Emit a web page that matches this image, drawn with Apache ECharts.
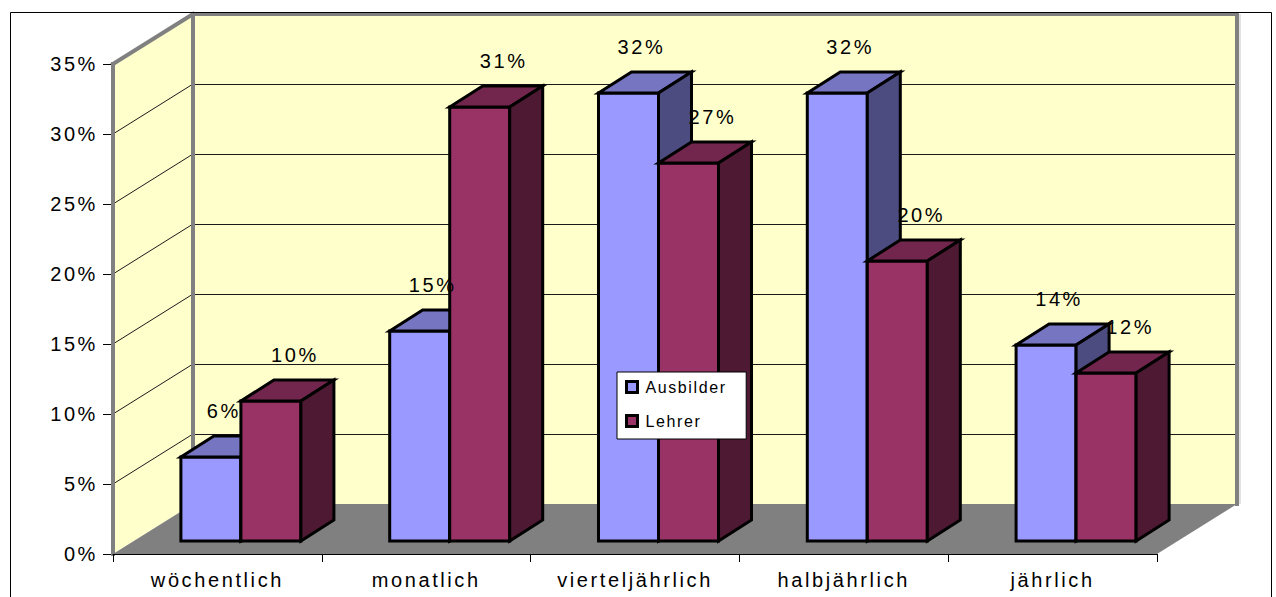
<!DOCTYPE html>
<html><head><meta charset="utf-8">
<script src="https://cdn.jsdelivr.net/npm/echarts/dist/echarts.min.js"></script>
<style>
html,body{margin:0;padding:0;background:#fff;}
#chart{width:1276px;height:597px;}
#chart text{letter-spacing:2.6px;}
#chart text[style*="16px"]{letter-spacing:1.6px;}
</style></head><body><div id="chart"></div>
<script>
const categories = ['wöchentlich', 'monatlich', 'vierteljährlich', 'halbjährlich', 'jährlich'];
const seriesNames = ['Ausbilder', 'Lehrer'];
const ausbilder = [6, 15, 32, 32, 14];
const lehrer = [10, 31, 27, 20, 12];
const yTicks = [0, 5, 10, 15, 20, 25, 30, 35];

const FONT = '"Liberation Sans", Arial, sans-serif';
const Y_MAX = 35;
const WALL_DX = 80, WALL_DY = -50;
const FRONT_DX = 21, FRONT_DY = -13;
const BAR_DX = 33, BAR_DY = -21;
const BAR_FRAC = 0.2874, PAIR_SHIFT = 2.5;
const COLORS = [
  {front: '#9999FF', top: '#7575C2', side: '#4C4C80', ldx: 13},
  {front: '#993366', top: '#73264D', side: '#4D1933', ldx: 24}
];

function wallRender(params, api) {
  const band = api.size([1, 0])[0];
  const xL = api.coord([0, 0])[0] - band / 2;
  const xR = api.coord([categories.length - 1, 0])[0] + band / 2;
  const y0 = api.coord([0, 0])[1];
  const yT = api.coord([0, Y_MAX])[1];
  const ch = [];
  const wall = '#FFFFCC', edge = '#808080';
  ch.push({type: 'polygon', shape: {points: [[xL, y0], [xL, yT], [xL + WALL_DX, yT + WALL_DY], [xL + WALL_DX, y0 + WALL_DY]]}, style: {fill: wall}});
  ch.push({type: 'rect', shape: {x: xL + WALL_DX, y: yT + WALL_DY, width: xR - xL, height: y0 - yT}, style: {fill: wall}});
  yTicks.forEach(t => {
    if (t === 0 || t === Y_MAX) return;
    const y = api.coord([0, t])[1];
    ch.push({type: 'line', shape: {x1: xL + WALL_DX, y1: y + WALL_DY + 0.5, x2: xR + WALL_DX, y2: y + WALL_DY + 0.5}, style: {stroke: '#1a1a1a', lineWidth: 1}});
    ch.push({type: 'line', shape: {x1: xL, y1: y, x2: xL + WALL_DX, y2: y + WALL_DY}, style: {stroke: '#1a1a1a', lineWidth: 1}});
  });
  ch.push({type: 'polygon', shape: {points: [[xL, y0], [xR, y0], [xR + WALL_DX, y0 + WALL_DY], [xL + WALL_DX, y0 + WALL_DY]]}, style: {fill: '#808080'}});
  const e = (x1, y1, x2, y2) => ch.push({type: 'line', shape: {x1, y1, x2, y2}, style: {stroke: edge, lineWidth: 4, lineCap: 'square'}});
  e(xL, y0, xL, yT);
  e(xL, yT, xL + WALL_DX, yT + WALL_DY);
  e(xL + WALL_DX, yT + WALL_DY, xL + WALL_DX, y0 + WALL_DY);
  e(xL + WALL_DX, yT + WALL_DY, xR + WALL_DX, yT + WALL_DY);
  e(xR + WALL_DX, yT + WALL_DY, xR + WALL_DX, y0 + WALL_DY);
  ch.push({type: 'line', shape: {x1: xR + WALL_DX + 3, y1: yT + WALL_DY, x2: xR + WALL_DX + 3, y2: y0 + WALL_DY}, style: {stroke: '#c8c8c8', lineWidth: 1}});
  return {type: 'group', children: ch};
}

function barRender(s) {
  return function (params, api) {
    const i = api.value(0), v = api.value(1);
    const base = api.coord([i, 0]);
    const top = api.coord([i, v]);
    const band = api.size([1, 0])[0];
    const bw = band * BAR_FRAC;
    const xl = base[0] + PAIR_SHIFT + (s === 0 ? -bw : 0) + FRONT_DX;
    const xr = xl + bw;
    const yb = base[1] + FRONT_DY;
    const yt = top[1] + FRONT_DY;
    const c = COLORS[s];
    const st = (fill) => ({fill, stroke: '#000', lineWidth: 3, lineJoin: 'miter'});
    return {type: 'group', children: [
      {type: 'polygon', shape: {points: [[xl, yb], [xl, yt], [xr, yt], [xr, yb]]}, style: st(c.front)},
      {type: 'polygon', shape: {points: [[xl, yt], [xr, yt], [xr + BAR_DX, yt + BAR_DY], [xl + BAR_DX, yt + BAR_DY]]}, style: st(c.top)},
      {type: 'polygon', shape: {points: [[xr, yt], [xr + BAR_DX, yt + BAR_DY], [xr + BAR_DX, yb + BAR_DY], [xr, yb]]}, style: st(c.side)},
      {type: 'text', z2: 100, x: (xl + xr) / 2 + c.ldx, y: yt - 46, style: {text: v + '%', fill: '#000', font: '20px ' + FONT, align: 'center', verticalAlign: 'middle'}}
    ]};
  };
}

const chart = echarts.init(document.getElementById('chart'), null, {renderer: 'svg'});
chart.setOption({
  animation: false,
  backgroundColor: '#fff',
  grid: {left: 113, right: 119, top: 64, bottom: 43, containLabel: false, outerBoundsMode: 'none'},
  xAxis: {
    type: 'category', data: categories, z: 5,
    axisLine: {show: true, lineStyle: {color: '#000', width: 1}},
    axisTick: {show: true, length: 8, lineStyle: {color: '#000'}},
    axisLabel: {interval: 0, color: '#000', fontSize: 20, fontFamily: FONT, margin: 16},
    splitLine: {show: false}
  },
  yAxis: {
    type: 'value', min: 0, max: Y_MAX, interval: 5,
    axisLine: {show: false},
    axisTick: {show: true, length: 10, lineStyle: {color: '#000'}},
    axisLabel: {formatter: '{value}%', color: '#000', fontSize: 20, fontFamily: FONT, margin: 15},
    splitLine: {show: false}
  },
  legend: {
    orient: 'vertical', left: 617, top: 372,
    backgroundColor: '#fff', borderColor: '#000', borderWidth: 1, borderRadius: 0,
    padding: [7, 34, 10, 8], itemGap: 18, itemWidth: 11, itemHeight: 11,
    icon: 'rect', selectedMode: false,
    textStyle: {color: '#000', fontSize: 16, fontFamily: FONT, padding: [0, 0, 0, 3]},
    data: seriesNames.map((n, k) => ({name: n, icon: 'rect', itemStyle: {color: COLORS[k].front, borderColor: '#000', borderWidth: 3}}))
  },
  graphic: [{type: 'rect', silent: true, z: 100, shape: {x: 10.5, y: 12.5, width: 1261, height: 600}, style: {fill: 'none', stroke: '#000', lineWidth: 1}}],
  series: [
    {type: 'custom', name: '_walls', z: 1, silent: true, clip: false, renderItem: wallRender, data: [[0, 0]], encode: {x: 0, y: 1}},
    {type: 'custom', name: seriesNames[0], z: 2, silent: true, clip: false, renderItem: barRender(0), itemStyle: {color: COLORS[0].front}, data: ausbilder.map((v, i) => [i, v]), encode: {x: 0, y: 1}},
    {type: 'custom', name: seriesNames[1], z: 2, silent: true, clip: false, renderItem: barRender(1), itemStyle: {color: COLORS[1].front}, data: lehrer.map((v, i) => [i, v]), encode: {x: 0, y: 1}}
  ]
});
</script></body></html>
